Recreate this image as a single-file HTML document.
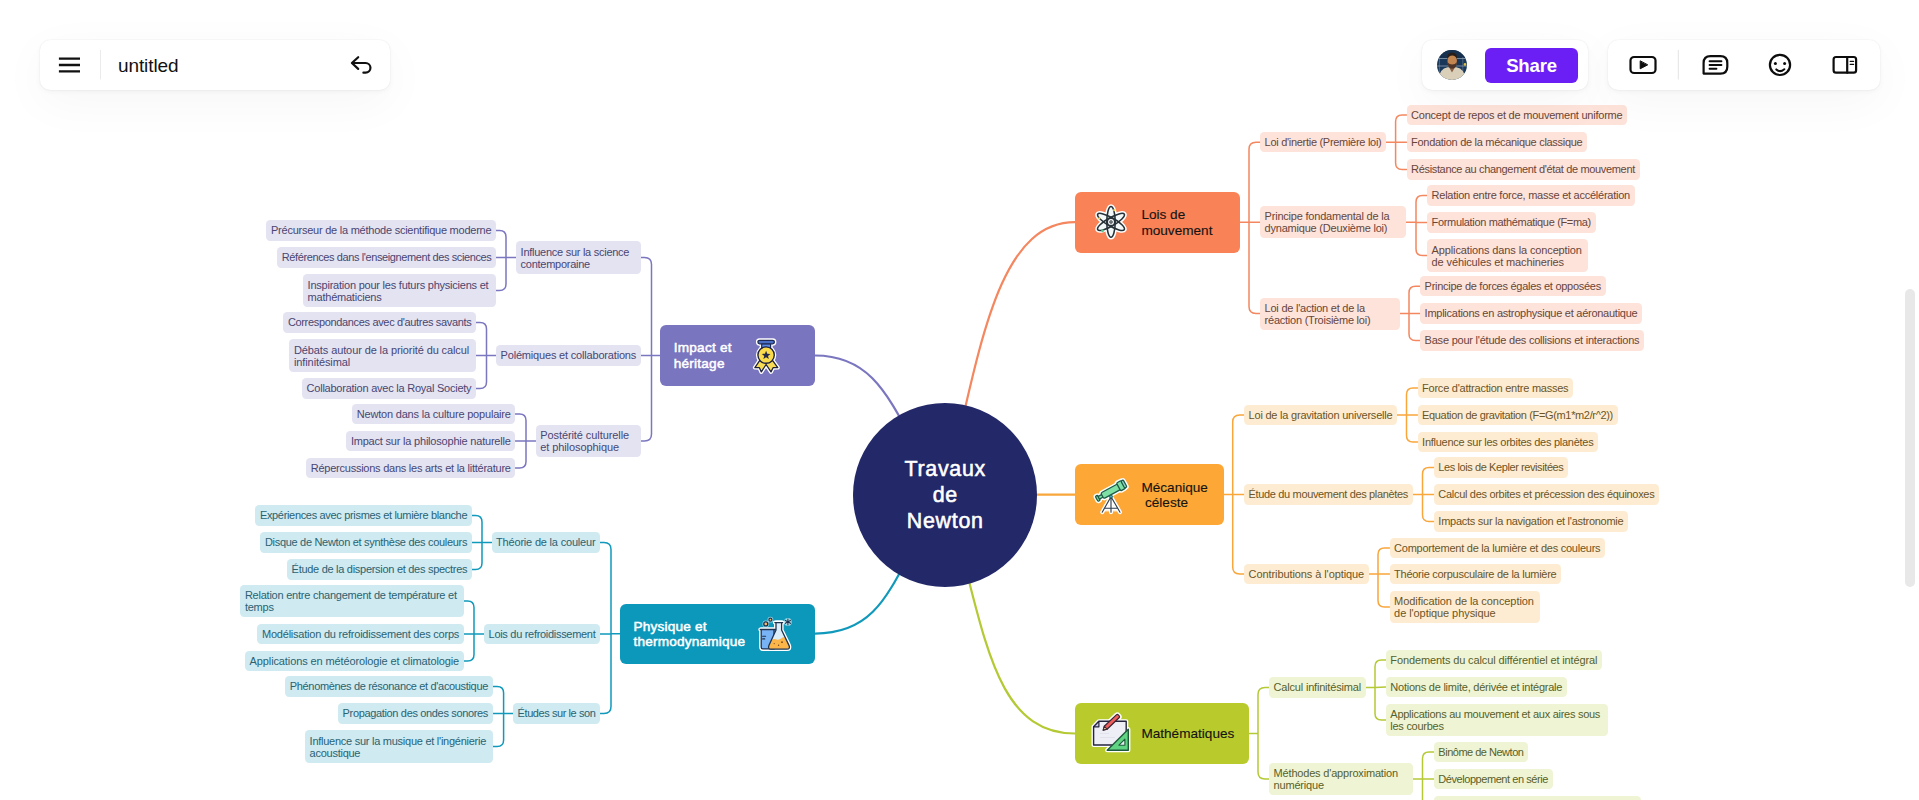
<!DOCTYPE html>
<html lang="fr"><head><meta charset="utf-8"><title>untitled</title>
<style>
html,body{margin:0;padding:0;background:#fff;}
body{width:1919px;height:800px;overflow:hidden;position:relative;font-family:"Liberation Sans", sans-serif;}
#cv{position:absolute;left:0;top:0;width:1919px;height:800px;overflow:hidden;}
svg.wires{position:absolute;left:0;top:0;}
.n{position:absolute;box-sizing:border-box;border-radius:4.2px;font-size:11.0px;line-height:12px;white-space:pre;padding:4.2px 0 0 4.6px;overflow:hidden;}
.n.s{line-height:20.5px;padding-top:0;}
.M{position:absolute;box-sizing:border-box;border-radius:6px;font-size:13.6px;line-height:15.5px;white-space:pre;color:#141414;-webkit-text-stroke:.12px currentColor;}
.M span{position:absolute;}
.ic{position:absolute;overflow:visible;}
.root{position:absolute;left:852.6px;top:402.5px;width:184.6px;height:184.6px;border-radius:50%;background:#232868;color:#fff;
  font-weight:normal;-webkit-text-stroke:.55px #fff;font-size:21.4px;line-height:26.3px;text-align:center;letter-spacing:.7px;padding-left:.7px;box-sizing:border-box;}
.root div{position:absolute;left:.7px;right:0;top:53.4px;}
.tb{position:absolute;top:40px;height:50px;background:#fff;border-radius:10px;box-shadow:0 0 1.5px rgba(0,0,0,.10),0 2px 5px rgba(0,0,0,.035),0 12px 48px rgba(0,0,0,.04);}
.title{position:absolute;left:78px;top:.5px;line-height:50px;font-size:19px;color:#111;letter-spacing:-.1px;}
.share{position:absolute;left:63px;top:8px;width:93px;height:35px;border-radius:6px;background:#6B1FF5;color:#fff;font-weight:bold;font-size:18.6px;line-height:35px;text-align:center;letter-spacing:-.2px;}
.scroll{position:absolute;left:1905px;top:288.7px;width:9.5px;height:298.3px;border-radius:5px;background:#e8e8e8;}
.orange{background:#FDE3DA;color:#67463A;}
.yellow{background:#FEECD2;color:#6A5527;}
.lime{background:#EFF4D4;color:#575F2B;}
.purple{background:#E4E3F1;color:#494672;}
.teal{background:#CFEAF1;color:#2A6272;}
</style></head><body><div id="cv">
<svg class="wires" width="1919" height="800" viewBox="0 0 1919 800" fill="none" stroke-linecap="round" stroke-linejoin="round">
<path d="M945,494.7C979,356 995,222.2 1075,222.2" stroke="#F4875F" stroke-width="2.2"/>
<path d="M945,494.7H1075" stroke="#F9A63B" stroke-width="2.2"/>
<path d="M945,494.7C984,615 987,733.5 1075,733.5" stroke="#B5C934" stroke-width="2.2"/>
<path d="M945,494.7C894,420 886,355.5 815,355.5" stroke="#7B76C0" stroke-width="2.2"/>
<path d="M945,494.7C893,567 891,633.6 815,633.6" stroke="#1199BB" stroke-width="2.2"/>
<path d="M1386.00,142.30H1395.60M1395.60,142.30L1406.50,142.30M1406.50,115.00H1402.10Q1395.60,115.00 1395.60,121.50V163.00Q1395.60,169.50 1402.10,169.50H1406.50" stroke="#F4875F" stroke-width="1.5"/>
<path d="M1406.00,222.30H1416.00M1416.00,222.30L1427.00,222.40M1427.00,195.40H1422.50Q1416.00,195.40 1416.00,201.90V249.00Q1416.00,255.50 1422.50,255.50H1427.00" stroke="#F4875F" stroke-width="1.5"/>
<path d="M1399.50,313.60H1409.00M1409.00,313.60L1420.00,313.60M1420.00,286.30H1415.50Q1409.00,286.30 1409.00,292.80V334.10Q1409.00,340.60 1415.50,340.60H1420.00" stroke="#F4875F" stroke-width="1.5"/>
<path d="M1240.00,222.25H1249.00M1249.00,222.25L1260.00,222.30M1260.00,142.30H1256.00Q1249.00,142.30 1249.00,149.30V306.60Q1249.00,313.60 1256.00,313.60H1260.00" stroke="#F4875F" stroke-width="1.5"/>
<path d="M1397.00,415.00H1406.50M1406.50,415.00L1417.50,415.00M1417.50,388.00H1413.00Q1406.50,388.00 1406.50,394.50V435.50Q1406.50,442.00 1413.00,442.00H1417.50" stroke="#F9A63B" stroke-width="1.5"/>
<path d="M1412.50,494.50H1422.50M1422.50,494.50L1433.75,494.50M1433.75,467.50H1429.00Q1422.50,467.50 1422.50,474.00V515.00Q1422.50,521.50 1429.00,521.50H1433.75" stroke="#F9A63B" stroke-width="1.5"/>
<path d="M1368.75,574.00H1378.00M1378.00,574.00L1389.50,574.00M1389.50,548.00H1384.50Q1378.00,548.00 1378.00,554.50V600.50Q1378.00,607.00 1384.50,607.00H1389.50" stroke="#F9A63B" stroke-width="1.5"/>
<path d="M1224.00,494.50H1232.70M1232.70,494.50L1244.00,494.50M1244.00,415.00H1239.70Q1232.70,415.00 1232.70,422.00V567.00Q1232.70,574.00 1239.70,574.00H1244.00" stroke="#F9A63B" stroke-width="1.5"/>
<path d="M1365.50,687.50H1375.00M1375.00,687.50L1385.75,687.00M1385.75,660.00H1381.50Q1375.00,660.00 1375.00,666.50V713.50Q1375.00,720.00 1381.50,720.00H1385.75" stroke="#B5C934" stroke-width="1.5"/>
<path d="M1413.00,779.00H1422.50M1422.50,779.00L1433.75,779.00M1433.75,752.00H1429.00Q1422.50,752.00 1422.50,758.50V799.50Q1422.50,806.00 1429.00,806.00H1433.75" stroke="#B5C934" stroke-width="1.5"/>
<path d="M1249.00,733.50H1258.00M1269.00,687.50H1265.00Q1258.00,687.50 1258.00,694.50V772.00Q1258.00,779.00 1265.00,779.00H1269.00" stroke="#B5C934" stroke-width="1.5"/>
<path d="M516.00,257.50H506.00M506.00,257.50L496.00,257.50M496.00,230.50H499.50Q506.00,230.50 506.00,237.00V284.00Q506.00,290.50 499.50,290.50H496.00" stroke="#7B76C0" stroke-width="1.5"/>
<path d="M496.00,355.50H486.50M486.50,355.50L476.00,355.50M476.00,322.50H480.00Q486.50,322.50 486.50,329.00V382.00Q486.50,388.50 480.00,388.50H476.00" stroke="#7B76C0" stroke-width="1.5"/>
<path d="M535.60,441.00H526.00M526.00,441.00L515.30,441.00M515.30,414.00H519.50Q526.00,414.00 526.00,420.50V461.50Q526.00,468.00 519.50,468.00H515.30" stroke="#7B76C0" stroke-width="1.5"/>
<path d="M660.20,355.50H651.50M651.50,355.50L640.70,355.50M640.70,257.50H644.50Q651.50,257.50 651.50,264.50V434.00Q651.50,441.00 644.50,441.00H640.70" stroke="#7B76C0" stroke-width="1.5"/>
<path d="M491.50,542.50H482.00M482.00,542.50L471.80,542.50M471.80,515.50H475.50Q482.00,515.50 482.00,522.00V563.00Q482.00,569.50 475.50,569.50H471.80" stroke="#1199BB" stroke-width="1.5"/>
<path d="M484.00,634.00H474.00M474.00,634.00L463.70,634.00M463.70,601.00H467.50Q474.00,601.00 474.00,607.50V654.50Q474.00,661.00 467.50,661.00H463.70" stroke="#1199BB" stroke-width="1.5"/>
<path d="M513.00,713.50H503.60M503.60,713.50L492.60,713.50M492.60,686.50H497.10Q503.60,686.50 503.60,693.00V740.00Q503.60,746.50 497.10,746.50H492.60" stroke="#1199BB" stroke-width="1.5"/>
<path d="M620.00,633.75H611.00M611.00,633.75L600.00,634.00M600.00,542.50H604.00Q611.00,542.50 611.00,549.50V706.50Q611.00,713.50 604.00,713.50H600.00" stroke="#1199BB" stroke-width="1.5"/>
</svg>
<div class="n orange s" style="left:1260.00px;top:132.15px;width:126.00px;height:20.30px;letter-spacing:-0.292px">Loi d'inertie (Première loi)</div>
<div class="n orange s" style="left:1406.50px;top:104.85px;width:220.50px;height:20.30px;letter-spacing:-0.230px">Concept de repos et de mouvement uniforme</div>
<div class="n orange s" style="left:1406.50px;top:132.15px;width:180.50px;height:20.30px;letter-spacing:-0.295px">Fondation de la mécanique classique</div>
<div class="n orange s" style="left:1406.50px;top:159.35px;width:233.00px;height:20.30px;letter-spacing:-0.340px">Résistance au changement d'état de mouvement</div>
<div class="n orange" style="left:1260.00px;top:206.20px;width:146.00px;height:32.20px;letter-spacing:-0.212px">Principe fondamental de la
dynamique (Deuxième loi)</div>
<div class="n orange s" style="left:1427.00px;top:185.25px;width:207.50px;height:20.30px;letter-spacing:-0.251px">Relation entre force, masse et accélération</div>
<div class="n orange s" style="left:1427.00px;top:212.25px;width:168.50px;height:20.30px;letter-spacing:-0.334px">Formulation mathématique (F=ma)</div>
<div class="n orange" style="left:1427.00px;top:239.40px;width:161.00px;height:32.20px;letter-spacing:-0.124px">Applications dans la conception
de véhicules et machineries</div>
<div class="n orange" style="left:1260.00px;top:297.50px;width:139.50px;height:32.20px;letter-spacing:-0.238px">Loi de l'action et de la
réaction (Troisième loi)</div>
<div class="n orange s" style="left:1420.00px;top:276.15px;width:185.50px;height:20.30px;letter-spacing:-0.276px">Principe de forces égales et opposées</div>
<div class="n orange s" style="left:1420.00px;top:303.45px;width:222.00px;height:20.30px;letter-spacing:-0.258px">Implications en astrophysique et aéronautique</div>
<div class="n orange s" style="left:1420.00px;top:330.45px;width:224.00px;height:20.30px;letter-spacing:-0.219px">Base pour l'étude des collisions et interactions</div>
<div class="n yellow s" style="left:1244.00px;top:404.85px;width:153.00px;height:20.30px;letter-spacing:-0.220px">Loi de la gravitation universelle</div>
<div class="n yellow s" style="left:1417.50px;top:377.85px;width:155.50px;height:20.30px;letter-spacing:-0.240px">Force d'attraction entre masses</div>
<div class="n yellow s" style="left:1417.50px;top:404.85px;width:200.00px;height:20.30px;letter-spacing:-0.350px">Equation de gravitation (F=G(m1*m2/r^2))</div>
<div class="n yellow s" style="left:1417.50px;top:431.85px;width:180.50px;height:20.30px;letter-spacing:-0.271px">Influence sur les orbites des planètes</div>
<div class="n yellow s" style="left:1244.00px;top:484.35px;width:168.50px;height:20.30px;letter-spacing:-0.346px">Étude du mouvement des planètes</div>
<div class="n yellow s" style="left:1433.75px;top:457.35px;width:134.25px;height:20.30px;letter-spacing:-0.411px">Les lois de Kepler revisitées</div>
<div class="n yellow s" style="left:1433.75px;top:484.35px;width:225.25px;height:20.30px;letter-spacing:-0.302px">Calcul des orbites et précession des équinoxes</div>
<div class="n yellow s" style="left:1433.75px;top:511.35px;width:194.25px;height:20.30px;letter-spacing:-0.265px">Impacts sur la navigation et l'astronomie</div>
<div class="n yellow s" style="left:1244.00px;top:563.85px;width:124.75px;height:20.30px;letter-spacing:-0.086px">Contributions à l'optique</div>
<div class="n yellow s" style="left:1389.50px;top:537.85px;width:215.50px;height:20.30px;letter-spacing:-0.242px">Comportement de la lumière et des couleurs</div>
<div class="n yellow s" style="left:1389.50px;top:563.85px;width:171.50px;height:20.30px;letter-spacing:-0.272px">Théorie corpusculaire de la lumière</div>
<div class="n yellow" style="left:1389.50px;top:590.90px;width:150.00px;height:32.20px;letter-spacing:-0.073px">Modification de la conception
de l'optique physique</div>
<div class="n lime s" style="left:1269.00px;top:677.35px;width:96.50px;height:20.30px;letter-spacing:-0.190px">Calcul infinitésimal</div>
<div class="n lime s" style="left:1385.75px;top:649.85px;width:216.25px;height:20.30px;letter-spacing:-0.123px">Fondements du calcul différentiel et intégral</div>
<div class="n lime s" style="left:1385.75px;top:676.85px;width:181.00px;height:20.30px;letter-spacing:-0.235px">Notions de limite, dérivée et intégrale</div>
<div class="n lime" style="left:1385.75px;top:703.90px;width:221.75px;height:32.20px;letter-spacing:-0.270px">Applications au mouvement et aux aires sous
les courbes</div>
<div class="n lime" style="left:1269.00px;top:762.90px;width:144.00px;height:32.20px;letter-spacing:-0.185px">Méthodes d'approximation
numérique</div>
<div class="n lime s" style="left:1433.75px;top:741.85px;width:94.25px;height:20.30px;letter-spacing:-0.494px">Binôme de Newton</div>
<div class="n lime s" style="left:1433.75px;top:768.85px;width:118.75px;height:20.30px;letter-spacing:-0.441px">Développement en série</div>
<div class="n lime s" style="left:1433.75px;top:795.85px;width:207.25px;height:20.30px;letter-spacing:-0.600px">Méthode de Newton pour la recherche de racines</div>
<div class="n purple" style="left:516.00px;top:241.40px;width:124.70px;height:32.20px;letter-spacing:-0.265px">Influence sur la science
contemporaine</div>
<div class="n purple s" style="left:266.40px;top:220.35px;width:229.60px;height:20.30px;letter-spacing:-0.239px">Précurseur de la méthode scientifique moderne</div>
<div class="n purple s" style="left:277.20px;top:247.35px;width:218.80px;height:20.30px;letter-spacing:-0.393px">Références dans l'enseignement des sciences</div>
<div class="n purple" style="left:303.00px;top:274.40px;width:193.00px;height:32.20px;letter-spacing:-0.228px">Inspiration pour les futurs physiciens et
mathématiciens</div>
<div class="n purple s" style="left:496.00px;top:345.35px;width:144.70px;height:20.30px;letter-spacing:-0.184px">Polémiques et collaborations</div>
<div class="n purple s" style="left:283.30px;top:312.35px;width:192.70px;height:20.30px;letter-spacing:-0.336px">Correspondances avec d'autres savants</div>
<div class="n purple" style="left:289.40px;top:339.40px;width:186.60px;height:32.20px;letter-spacing:-0.107px">Débats autour de la priorité du calcul
infinitésimal</div>
<div class="n purple s" style="left:302.00px;top:378.35px;width:174.00px;height:20.30px;letter-spacing:-0.236px">Collaboration avec la Royal Society</div>
<div class="n purple" style="left:535.60px;top:424.90px;width:105.10px;height:32.20px;letter-spacing:-0.080px">Postérité culturelle
et philosophique</div>
<div class="n purple s" style="left:352.20px;top:403.85px;width:163.10px;height:20.30px;letter-spacing:-0.197px">Newton dans la culture populaire</div>
<div class="n purple s" style="left:346.30px;top:430.85px;width:169.00px;height:20.30px;letter-spacing:-0.204px">Impact sur la philosophie naturelle</div>
<div class="n purple s" style="left:306.20px;top:457.85px;width:209.10px;height:20.30px;letter-spacing:-0.245px">Répercussions dans les arts et la littérature</div>
<div class="n teal s" style="left:491.50px;top:532.35px;width:108.50px;height:20.30px;letter-spacing:-0.193px">Théorie de la couleur</div>
<div class="n teal s" style="left:255.30px;top:505.35px;width:216.50px;height:20.30px;letter-spacing:-0.326px">Expériences avec prismes et lumière blanche</div>
<div class="n teal s" style="left:260.30px;top:532.35px;width:211.50px;height:20.30px;letter-spacing:-0.301px">Disque de Newton et synthèse des couleurs</div>
<div class="n teal s" style="left:287.00px;top:559.35px;width:184.80px;height:20.30px;letter-spacing:-0.287px">Étude de la dispersion et des spectres</div>
<div class="n teal s" style="left:484.00px;top:623.85px;width:116.00px;height:20.30px;letter-spacing:-0.301px">Lois du refroidissement</div>
<div class="n teal" style="left:240.30px;top:584.90px;width:223.40px;height:32.20px;letter-spacing:-0.235px">Relation entre changement de température et
temps</div>
<div class="n teal s" style="left:257.40px;top:623.85px;width:206.30px;height:20.30px;letter-spacing:-0.218px">Modélisation du refroidissement des corps</div>
<div class="n teal s" style="left:245.00px;top:650.85px;width:218.70px;height:20.30px;letter-spacing:-0.116px">Applications en météorologie et climatologie</div>
<div class="n teal s" style="left:513.00px;top:703.35px;width:87.00px;height:20.30px;letter-spacing:-0.424px">Études sur le son</div>
<div class="n teal s" style="left:285.20px;top:676.35px;width:207.40px;height:20.30px;letter-spacing:-0.335px">Phénomènes de résonance et d'acoustique</div>
<div class="n teal s" style="left:338.00px;top:703.35px;width:154.60px;height:20.30px;letter-spacing:-0.343px">Propagation des ondes sonores</div>
<div class="n teal" style="left:305.00px;top:730.40px;width:187.60px;height:32.20px;letter-spacing:-0.259px">Influence sur la musique et l'ingénierie
acoustique</div>
<div class="root"><div>Travaux<br>de<br>Newton</div></div>
<div class="M" style="left:1075px;top:192px;width:165px;height:60.5px;background:#F98256;"><span style="left:66.40px;top:15.20px;letter-spacing:0px;text-align:left;">Lois de<br>mouvement</span></div>
<svg class="ic" style="left:1088px;top:198px" width="46" height="46" viewBox="0 0 46 46"><ellipse cx="23" cy="23.9" rx="4.2" ry="15.4" transform="rotate(0 23 23.9)" fill="#fff" stroke="#fff" stroke-width="4.6"/><ellipse cx="23" cy="23.9" rx="4.2" ry="15.4" transform="rotate(60 23 23.9)" fill="#fff" stroke="#fff" stroke-width="4.6"/><ellipse cx="23" cy="23.9" rx="4.2" ry="15.4" transform="rotate(120 23 23.9)" fill="#fff" stroke="#fff" stroke-width="4.6"/><ellipse cx="23" cy="23.9" rx="4.2" ry="15.4" transform="rotate(0 23 23.9)" fill="#EAF2F4" fill-opacity=".55" stroke="none"/><ellipse cx="23" cy="23.9" rx="4.2" ry="15.4" transform="rotate(60 23 23.9)" fill="#EAF2F4" fill-opacity=".55" stroke="none"/><ellipse cx="23" cy="23.9" rx="4.2" ry="15.4" transform="rotate(120 23 23.9)" fill="#EAF2F4" fill-opacity=".55" stroke="none"/><ellipse cx="23" cy="23.9" rx="4.2" ry="15.4" transform="rotate(0 23 23.9)" fill="none" stroke="#263238" stroke-width="1.55"/><ellipse cx="23" cy="23.9" rx="4.2" ry="15.4" transform="rotate(60 23 23.9)" fill="none" stroke="#263238" stroke-width="1.55"/><ellipse cx="23" cy="23.9" rx="4.2" ry="15.4" transform="rotate(120 23 23.9)" fill="none" stroke="#263238" stroke-width="1.55"/><circle cx="23" cy="23.9" r="3.7" fill="#FFFFFF" stroke="#263238" stroke-width="1.5"/><circle cx="23" cy="23.9" r="1.2" fill="#fff" stroke="#263238" stroke-width="1.1"/><circle cx="26.2" cy="12.2" r="1.1" fill="#F2D35B"/><circle cx="11.3" cy="20.4" r="1.1" fill="#F2D35B"/><circle cx="14.6" cy="32.8" r="1.4" fill="#58C98A"/></svg>
<div class="M" style="left:1075px;top:464px;width:149px;height:61px;background:#FDA736;"><span style="left:66.40px;top:15.70px;letter-spacing:0px;text-align:left;">Mécanique<br><i style="font-style:normal;padding-left:3.6px">céleste</i></span></div>
<svg class="ic" style="left:1088px;top:472px" width="46" height="46" viewBox="0 0 46 46"><g transform="rotate(-28.6 23 19)"><rect x="6.6" y="16.2" width="2.6" height="5.8" rx="1.1" fill="#fff" stroke="#fff" stroke-width="4.2" stroke-linejoin="round"/><rect x="9" y="17.6" width="4.4" height="3.0" fill="#fff" stroke="#fff" stroke-width="4.2" stroke-linejoin="round"/><rect x="13" y="15.9" width="19.5" height="6.4" rx="1.6" fill="#fff" stroke="#fff" stroke-width="4.2" stroke-linejoin="round"/><rect x="31.6" y="14.6" width="5.4" height="9.0" rx="1.2" fill="#fff" stroke="#fff" stroke-width="4.2" stroke-linejoin="round"/><rect x="36.4" y="15.1" width="2.6" height="8.0" rx="1.1" fill="#fff" stroke="#fff" stroke-width="4.2" stroke-linejoin="round"/></g><path d="M23,24.7 L14.2,40.2 M23,24.7 L23,40.2 M23,24.7 L32,40.2 M17.3,36.2 H28.8" fill="none" stroke="#fff" stroke-width="4" stroke-linecap="round" stroke-linejoin="round"/><path d="M23,25 L15,39.5 H31 Z" fill="#fff" fill-opacity=".75"/><path d="M23,24.7 L14.2,40.2 M23,24.7 L23,40.2 M23,24.7 L32,40.2 M17.3,36.2 H28.8" fill="none" stroke="#2E3F4F" stroke-width="1.15" stroke-linecap="round"/><g transform="rotate(-28.6 23 19)"><rect x="6.6" y="16.2" width="2.6" height="5.8" rx="1.1" fill="#7FE0A5" stroke="#1F5B47" stroke-width="1.3" stroke-linejoin="round"/><rect x="9" y="17.6" width="4.4" height="3.0" fill="#7FE0A5" stroke="#1F5B47" stroke-width="1.3" stroke-linejoin="round"/><rect x="13" y="15.9" width="19.5" height="6.4" rx="1.6" fill="#7FE0A5" stroke="#1F5B47" stroke-width="1.3" stroke-linejoin="round"/><rect x="31.6" y="14.6" width="5.4" height="9.0" rx="1.2" fill="#7FE0A5" stroke="#1F5B47" stroke-width="1.3" stroke-linejoin="round"/><rect x="36.4" y="15.1" width="2.6" height="8.0" rx="1.1" fill="#8FD9C9" stroke="#1F5B47" stroke-width="1.3" stroke-linejoin="round"/></g><circle cx="23" cy="24.6" r="1.5" fill="#4AA7C9" stroke="#1F5B47" stroke-width=".9"/></svg>
<div class="M" style="left:1075px;top:703px;width:174px;height:61px;background:#B9CB2C;"><span style="left:66.40px;top:23.00px;letter-spacing:0px;text-align:left;">Mathématiques</span></div>
<svg class="ic" style="left:1088px;top:710px" width="46" height="46" viewBox="0 0 46 46"><path d="M5.6,16.8 L10.9,11.3 H38.2 V35 H5.6 Z" fill="#fff" stroke="#fff" stroke-width="4.2" stroke-linejoin="round"/><path d="M40.3,19.2 V40.2 H19.2 Z" fill="#fff" stroke="#fff" stroke-width="4.2" stroke-linejoin="round"/><g transform="rotate(-43.5 15.2 20.1)"><path d="M15.2,20.1 L18.6,18.1 H35.2 Q36.6,18.1 36.6,19.4 V20.8 Q36.6,22.1 35.2,22.1 H18.6 Z" fill="#fff" stroke="#fff" stroke-width="4.2" stroke-linejoin="round"/></g><path d="M5.6,16.8 L10.9,11.3 H38.2 V35 H5.6 Z" fill="#EEEEF6" stroke="#24243C" stroke-width="1.4" stroke-linejoin="round"/><path d="M5.6,16.8 H10.9 V11.3 Z" fill="#C9C6EE" stroke="#24243C" stroke-width="1.2" stroke-linejoin="round"/><path d="M12,23.5 H21 M12,27.5 H27" stroke="#E2E2EC" stroke-width="1.2"/><path d="M40.3,19.2 V40.2 H19.2 Z" fill="#5FD483" stroke="#1E5B3A" stroke-width="1.4" stroke-linejoin="round"/><path d="M36.9,29.2 V35.2 H30.9 Z" fill="#E6EEF4" stroke="#1E5B3A" stroke-width="1.1" stroke-linejoin="round"/><g transform="rotate(-43.5 15.2 20.1)"><path d="M15.2,20.1 L18.6,18.1 H35.2 Q36.6,18.1 36.6,19.4 V20.8 Q36.6,22.1 35.2,22.1 H18.6 Z" fill="#EF5D5D" stroke="#3A2530" stroke-width="1.2" stroke-linejoin="round"/></g><g transform="rotate(-43.5 15.2 20.1)"><path d="M15.2,20.1 L18.6,18.1 V22.1 Z" fill="#F2D9A6" stroke="#3A2530" stroke-width="1"/></g></svg>
<div class="M" style="left:660.2px;top:325px;width:154.79999999999995px;height:61px;background:#7975BF;color:#fff;-webkit-text-stroke:.5px #fff;"><span style="left:13.60px;top:15.00px;letter-spacing:0.22px;text-align:left;">Impact et<br>héritage</span></div>
<svg class="ic" style="left:744px;top:333px" width="46" height="46" viewBox="0 0 46 46"><rect x="13.9" y="7.3" width="16.5" height="3.5" rx="1.7" fill="#fff" stroke="#fff" stroke-width="4" stroke-linejoin="round"/><path d="M17.7,10.6 H26.6 V16 H17.7 Z" fill="#fff" stroke="#fff" stroke-width="4" stroke-linejoin="round"/><path d="M15.6,27.6 L10.9,34.6 L15.4,34.7 L17.3,38.9 L22.1,31.5 L27,38.9 L29.1,34.7 L33.8,34.6 L28.7,27.6 Z" fill="#fff" stroke="#fff" stroke-width="4" stroke-linejoin="round"/><circle cx="22.1" cy="22.1" r="8.2" fill="#fff" stroke="#fff" stroke-width="4" stroke-linejoin="round"/><path d="M17.7,10.6 H26.6 V16 H17.7 Z" fill="#5A8BE6" stroke="#1E2A55" stroke-width="1.2" stroke-linejoin="round"/><rect x="13.9" y="7.3" width="16.5" height="3.5" rx="1.7" fill="#4A6FC6" stroke="#1E2A55" stroke-width="1.3"/><path d="M15.6,27.6 L10.9,34.6 L15.4,34.7 L17.3,38.9 L22.1,31.5 L27,38.9 L29.1,34.7 L33.8,34.6 L28.7,27.6 Z" fill="#F8DC55" stroke="#1E2240" stroke-width="1.3" stroke-linejoin="round"/><circle cx="22.1" cy="22.1" r="8.2" fill="#FADB4B" stroke="#1E2240" stroke-width="1.4"/><polygon points="22.10,17.70 23.28,20.68 26.47,20.88 24.00,22.92 24.80,26.02 22.10,24.30 19.40,26.02 20.20,22.92 17.73,20.88 20.92,20.68" fill="#252A4A"/></svg>
<div class="M" style="left:620px;top:603.5px;width:195px;height:60.5px;background:#0C98BA;color:#fff;-webkit-text-stroke:.5px #fff;"><span style="left:13.50px;top:15.10px;letter-spacing:0.2px;text-align:left;">Physique et<br>thermodynamique</span></div>
<svg class="ic" style="left:752px;top:611px" width="46" height="46" viewBox="0 0 46 46"><path d="M9.2,18.5 H23 V37.9 H10.8 Q9.2,37.9 9.2,36.3 Z" fill="#fff" stroke="#fff" stroke-width="4" stroke-linejoin="round" stroke-linecap="round"/><path d="M24,11.6 H29.6 V19 L37.1,34.6 Q38.4,38.1 35,38.1 H19 Q15.6,38.1 16.9,34.6 L24,19 Z" fill="#fff" stroke="#fff" stroke-width="4" stroke-linejoin="round" stroke-linecap="round"/><path d="M8.3,18.5 H23.5 M22.8,11.6 H30.7" fill="#fff" stroke="#fff" stroke-width="4" stroke-linejoin="round" stroke-linecap="round"/><circle cx="13.8" cy="12.9" r="2.1" fill="#fff" fill-opacity=".55" stroke="#fff" stroke-opacity=".55" stroke-width="2.6"/><circle cx="18.4" cy="8.7" r="1.6" fill="#fff" fill-opacity=".55" stroke="#fff" stroke-opacity=".55" stroke-width="2.6"/><circle cx="35.9" cy="10.9" r="2.6" fill="#fff" fill-opacity=".55" stroke="#fff" stroke-opacity=".55" stroke-width="2.6"/><path d="M9.2,18.5 H23 V37.9 H10.8 Q9.2,37.9 9.2,36.3 Z" fill="#78B3F6"/><path d="M8.3,18.5 H23.5 M9.2,18.5 V36.3 Q9.2,37.9 10.8,37.9 H22 V18.5" fill="none" stroke="#1E3350" stroke-width="1.3" stroke-linecap="round" stroke-linejoin="round"/><path d="M10.6,25.3 H13.6 M10.6,27.9 H12.7" stroke="#1E3350" stroke-width="1.1" stroke-linecap="round"/><path d="M24,11.6 H29.6 V19 L37.1,34.6 Q38.4,38.1 35,38.1 H19 Q15.6,38.1 16.9,34.6 L24,19 Z" fill="#DCEEF8"/><path d="M19.6,28.9 Q22,27.4 24.5,28.4 T29.5,27.3 T33.6,27.5 L37.1,34.6 Q38.4,38.1 35,38.1 H19 Q15.6,38.1 16.9,34.6 Z" fill="#FBB548"/><path d="M22.8,11.6 H30.7 M24,11.6 V19 L16.9,34.6 Q15.6,38.1 19,38.1 H35 Q38.4,38.1 37.1,34.6 L29.6,19 V11.6" fill="none" stroke="#1E3350" stroke-width="1.3" stroke-linecap="round" stroke-linejoin="round"/><circle cx="30" cy="31.2" r=".9" fill="#7A4A1E"/><circle cx="26.6" cy="34.2" r=".7" fill="#7A4A1E"/><circle cx="22.2" cy="32.6" r=".6" fill="#7A4A1E"/><circle cx="13.8" cy="12.9" r="2.0" fill="#F3B868" stroke="#1E3350" stroke-width="1.3"/><circle cx="18.4" cy="8.7" r="1.5" fill="#F3B868" stroke="#1E3350" stroke-width="1.2"/><path d="M35.9,8 V13.8 M33.4,9.45 L38.4,12.35 M33.4,12.35 L38.4,9.45" stroke="#1E3350" stroke-width="1.1" stroke-linecap="round"/></svg>
<div class="tb" style="left:40px;width:350px;">
<svg class="ic" style="left:0;top:0" width="350" height="50" viewBox="40 40 350 50" fill="none" stroke="#111" stroke-width="2" stroke-linecap="round" stroke-linejoin="round">
<path d="M58.9,58.7H80M58.9,65H80M58.9,71.4H80" stroke-linecap="butt" stroke-width="2.3"/>
<path d="M100.5,50V79.5" stroke="#ebebeb" stroke-width="1" stroke-linecap="butt"/>
<path d="M358.2,57.2L351.9,63L358.2,68.9M352.2,63H365.6A4.85,4.85 0 0 1 365.6,72.7H363.4" stroke-width="2.2"/>
</svg>
<div class="title">untitled</div></div>
<div class="tb" style="left:1422px;width:166px;">
<svg class="ic" style="left:15px;top:10px" width="30" height="30" viewBox="-15 -15 30 30">
<defs><clipPath id="avc"><circle r="15"/></clipPath></defs>
<g clip-path="url(#avc)">
<rect x="-15" y="-15" width="30" height="30" fill="#1B3A5B"/>
<rect x="-15" y="-15" width="30" height="8" fill="#17314F"/>
<path d="M-15,-6.5H15M-15,1H15" stroke="#9AA9BA" stroke-width="1" opacity=".7"/>
<path d="M-12.6,-8V8M10.8,-8V8" stroke="#8092A8" stroke-width=".9" opacity=".55"/>
<circle cx="13" cy="-.6" r="1.3" fill="#D9C04A"/>
<path d="M-13.5,15 Q-12.5,3.2 -4.5,2.2 L4.5,2.2 Q12.5,3.2 13.5,15 Z" fill="#DACFB9"/>
<path d="M-3.4,1.5 L0,7.5 L3.4,1.5 Z" fill="#8A6047"/>
<ellipse cx=".2" cy="-4.2" rx="4.7" ry="7.4" fill="#C48650"/>
<path d="M-4.7,-5.5 Q-5.3,-12.6 .2,-12.6 Q5.7,-12.6 5.1,-5.5 Q3.6,-9.6 .2,-9.6 Q-3.2,-9.6 -4.7,-5.5Z" fill="#2A1E18"/>
<path d="M-4.5,-2.8 Q-4.2,3.6 .2,3.8 Q4.6,3.6 4.9,-2.8 Q3,-.6 .2,-.6 Q-2.6,-.6 -4.5,-2.8Z" fill="#4F3527"/>
</g></svg>
<div class="share">Share</div></div>
<div class="tb" style="left:1608px;width:272px;">
<svg class="ic" style="left:0;top:0" width="272" height="50" viewBox="1608 40 272 50" fill="none" stroke="#0d0d0d" stroke-width="2.2" stroke-linecap="round" stroke-linejoin="round">
<rect x="1630.5" y="57" width="25" height="16" rx="3.6"/>
<path d="M1640.2,61.2V68.8L1647.4,65Z" fill="#0d0d0d" stroke-width="1"/>
<path d="M1678.3,50V79.5" stroke="#e3e3e3" stroke-width="1" stroke-linecap="butt"/>
<path d="M1703.6,73.6V63Q1703.6,56.1 1710.5,56.1H1720.4Q1727.3,56.1 1727.3,63V66.7Q1727.3,73.6 1720.4,73.6Z"/>
<path d="M1709.6,61.3H1721.4M1709.6,65H1721.4M1709.6,68.7H1716.4" stroke-width="2"/>
<circle cx="1780" cy="64.9" r="10.1"/>
<circle cx="1775.4" cy="63.4" r="1.5" fill="#0d0d0d" stroke="none"/><circle cx="1784.6" cy="63.4" r="1.5" fill="#0d0d0d" stroke="none"/>
<path d="M1776.3,69.4Q1780,72.9 1784.3,69.2" stroke-width="2"/>
<rect x="1833.6" y="57" width="22.5" height="15.7" rx="2.4"/>
<path d="M1847.2,57V72.7"/>
<path d="M1850.2,61.4H1853.6M1850.2,64.4H1853.6" stroke-width="1.2"/>
</svg></div>
<div class="scroll"></div>
</div></body></html>
